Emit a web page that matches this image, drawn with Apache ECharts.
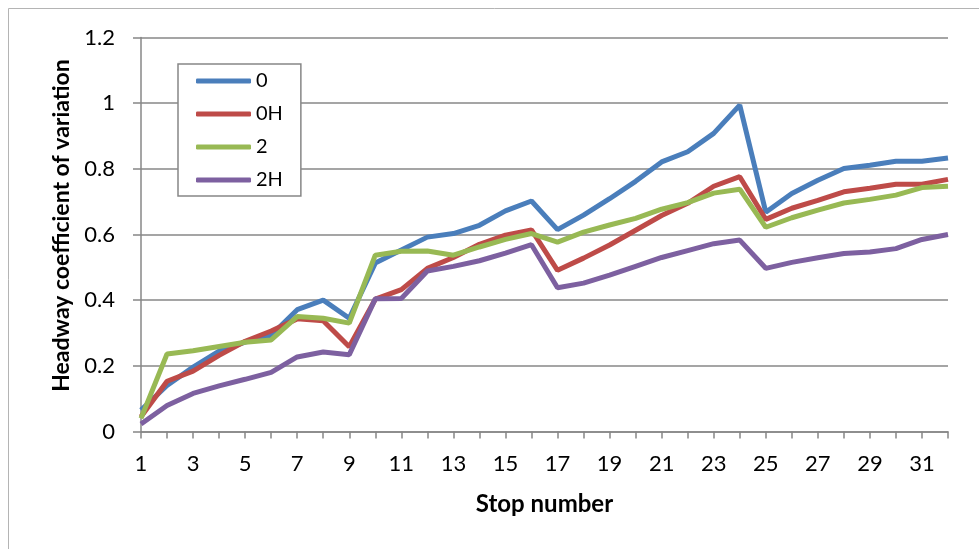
<!DOCTYPE html>
<html>
<head>
<meta charset="utf-8">
<script src="https://cdn.jsdelivr.net/npm/echarts@6/dist/echarts.min.js"></script>
<style>
  html, body { margin: 0; padding: 0; background: #fff; }
  #chart { width: 979px; height: 549px; }
</style>
</head>
<body>
<div id="chart"></div>
<script>
// Stop numbers along the route
const stops = ['1','2','3','4','5','6','7','8','9','10','11','12','13','14','15','16',
               '17','18','19','20','21','22','23','24','25','26','27','28','29','30','31','32'];

// Headway coefficient of variation per scenario
const cv0 = [0.065, 0.140, 0.196, 0.245, 0.272, 0.293, 0.371, 0.400, 0.345, 0.513, 0.553, 0.592,
             0.603, 0.628, 0.672, 0.702, 0.615, 0.659, 0.709, 0.762, 0.821, 0.852, 0.908, 0.994,
             0.668, 0.725, 0.765, 0.801, 0.811, 0.823, 0.823, 0.833];
const cv0H = [0.045, 0.153, 0.184, 0.232, 0.275, 0.306, 0.343, 0.337, 0.258, 0.403, 0.432, 0.497,
              0.530, 0.570, 0.598, 0.614, 0.491, 0.528, 0.568, 0.613, 0.658, 0.695, 0.747, 0.776,
              0.646, 0.680, 0.704, 0.730, 0.741, 0.753, 0.753, 0.768];
const cv2 = [0.040, 0.236, 0.246, 0.259, 0.272, 0.279, 0.350, 0.345, 0.330, 0.537, 0.549, 0.550,
             0.537, 0.562, 0.585, 0.603, 0.577, 0.607, 0.629, 0.649, 0.677, 0.697, 0.726, 0.738,
             0.622, 0.651, 0.674, 0.696, 0.707, 0.720, 0.743, 0.747];
const cv2H = [0.023, 0.079, 0.116, 0.139, 0.159, 0.180, 0.227, 0.242, 0.234, 0.404, 0.405, 0.489,
              0.503, 0.520, 0.543, 0.569, 0.438, 0.452, 0.476, 0.503, 0.530, 0.551, 0.572, 0.583,
              0.497, 0.515, 0.529, 0.542, 0.547, 0.557, 0.585, 0.600];

const seriesNames = ['0', '0H', '2', '2H'];
const seriesData = [cv0, cv0H, cv2, cv2H];
const colors = ['#4A7EBB', '#BE4B48', '#98B954', '#7D60A0'];

// Value-axis tick settings
const yMin = 0, yMax = 1.2, yStep = 0.2;

const gridGray = '#878787';
const font = 'Lato, "Open Sans", sans-serif';

const chart = echarts.init(document.getElementById('chart'), null, { renderer: 'canvas' });

chart.setOption({
  backgroundColor: '#fff',
  animation: false,
  color: colors,
  graphic: [{
    type: 'rect',
    shape: { x: 8.5, y: 8.5, width: 1000, height: 600 },
    style: { fill: 'none', stroke: '#b4b4b4', lineWidth: 1 },
    silent: true,
    z: -10
  }],
  grid: { left: 141, right: 31, top: 37.5, bottom: 117.5, containLabel: false },
  legend: {
    left: 178,
    top: 64,
    orient: 'vertical',
    data: seriesNames,
    icon: 'roundRect',
    itemWidth: 55,
    itemHeight: 5,
    itemGap: 13,
    padding: [7, 18, 6, 18],
    borderColor: gridGray,
    borderWidth: 1.5,
    backgroundColor: '#fff',
    textStyle: { fontFamily: font, fontSize: 20, color: '#000', lineHeight: 20 }
  },
  xAxis: {
    type: 'category',
    data: stops,
    boundaryGap: false,
    name: 'Stop number',
    nameLocation: 'middle',
    nameGap: 61,
    nameTextStyle: { fontFamily: font, fontSize: 24, fontWeight: 'bold', color: '#000' },
    axisLine: { lineStyle: { color: gridGray, width: 1.5 } },
    axisTick: { show: true, interval: 0, length: 7, lineStyle: { color: gridGray, width: 1.5 } },
    axisLabel: { interval: 1, margin: 21, fontFamily: font, fontSize: 22, color: '#000' },
    splitLine: { show: false }
  },
  yAxis: {
    type: 'value',
    min: yMin,
    max: yMax,
    interval: yStep,
    name: 'Headway coefficient of variation',
    nameLocation: 'middle',
    nameGap: 66,
    nameTextStyle: {
      fontFamily: font, fontSize: 23, fontWeight: 'bold', color: '#000',
      padding: [0, 0, 0, 18]
    },
    axisLine: { show: true, lineStyle: { color: gridGray, width: 1.5 } },
    axisTick: { show: true, length: 8, lineStyle: { color: gridGray, width: 1.5 } },
    axisLabel: { margin: 26, fontFamily: font, fontSize: 22, color: '#000' },
    splitLine: { show: true, lineStyle: { color: gridGray, width: 1.5 } }
  },
  series: seriesNames.map((name, i) => ({
    name: name,
    type: 'line',
    data: seriesData[i],
    showSymbol: false,
    symbol: 'none',
    lineStyle: { width: 5, color: colors[i] },
    itemStyle: { color: colors[i] }
  }))
});
</script>
</body>
</html>
